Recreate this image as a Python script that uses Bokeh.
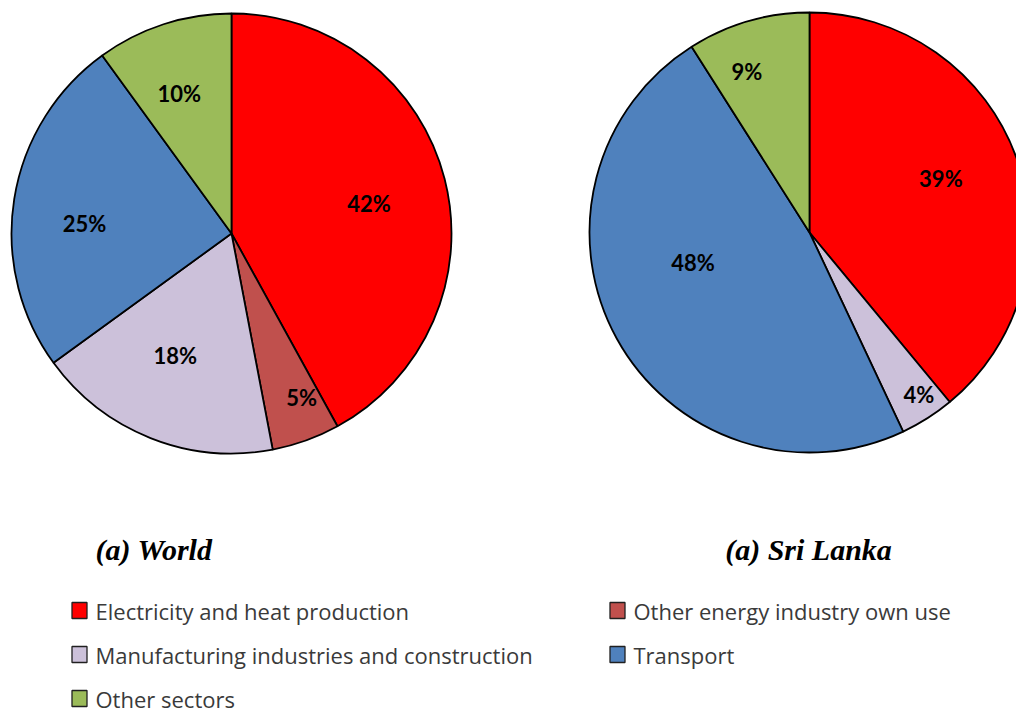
import math
from bokeh.plotting import figure
from bokeh.models import Range1d
from bokeh.core.properties import value
from bokeh.embed import file_html
from bokeh.resources import INLINE

categories = ["Electricity and heat production", "Other energy industry own use",
              "Manufacturing  industries and construction", "Transport", "Other sectors"]
colors = ["#FF0000", "#C0504D", "#CCC1DA", "#4F81BD", "#9BBB59"]
world = [42, 5, 18, 25, 10]
sri_lanka = [39, 0, 4, 48, 9]
titles = ["(a) World", "(a) Sri Lanka"]

W, H = 1016, 717
p = figure(width=W, height=H, x_range=Range1d(0, W), y_range=Range1d(0, H),
           output_backend="svg", toolbar_location=None, min_border=0)
p.axis.visible = False
p.grid.visible = False
p.outline_line_color = None
p.background_fill_color = "white"

R = 220
def Y(ref_y):
    return H - ref_y

def draw_pie(cx, cy, vals, label_r, label_shift):
    total = sum(vals)
    cum = 0.0
    for i, v in enumerate(vals):
        if v <= 0:
            continue
        f0 = cum / total
        f1 = (cum + v) / total
        cum += v
        a0 = math.pi / 2 - f0 * 2 * math.pi
        a1 = math.pi / 2 - f1 * 2 * math.pi
        p.wedge(x=[cx], y=[cy], radius=R, start_angle=[a0], end_angle=[a1], direction="clock",
                fill_color=colors[i], line_color="black", line_width=1.8)
        mid = (f0 + f1) / 2 * 2 * math.pi + math.radians(label_shift[i])
        fr = label_r[i]
        lx = cx + R * fr * math.sin(mid)
        ly = cy + R * fr * math.cos(mid)
        p.text(x=[lx], y=[ly], text=[f"{v}%"], text_align="center", text_baseline="middle",
               text_font=value("Lato"), text_font_style="bold", text_font_size="22px",
               text_color="black")

draw_pie(231, Y(233), world, [0.64, 0.81, 0.61, 0.67, 0.68], [2, -3.4, 3.2, -5.1, -2.4])
draw_pie(809, Y(232), sri_lanka, [0.645, 0.8, 0.89, 0.547, 0.786], [-2.4, 0, -1.6, 14.4, -5])

# titles
p.text(x=[95], y=[Y(549)], text=[titles[0]], text_align="left", text_baseline="alphabetic",
       text_font=value("Liberation Serif"), text_font_style="bold italic", text_font_size="30px",
       text_color="black")
p.text(x=[808], y=[Y(549)], text=[titles[1]], text_align="center", text_baseline="alphabetic",
       text_font=value("Liberation Serif"), text_font_style="bold italic", text_font_size="30px",
       text_color="black")

# legend
col_x = [71, 609]
row_mid = [610, 654, 698]
for i, name in enumerate(categories):
    c = i % 2
    r = i // 2
    sx = col_x[c]
    sm = row_mid[r]
    p.rect(x=[sx + 8], y=[Y(sm)], width=15, height=16, fill_color=colors[i],
           line_color="#202020", line_width=1.3)
    p.text(x=[sx + 24], y=[Y(sm)], text=[name], text_align="left", text_baseline="middle",
           text_font=value("Open Sans"), text_font_size="22px", text_color="#3a3a3a")

open("out.html", "w").write(file_html(p, INLINE))
